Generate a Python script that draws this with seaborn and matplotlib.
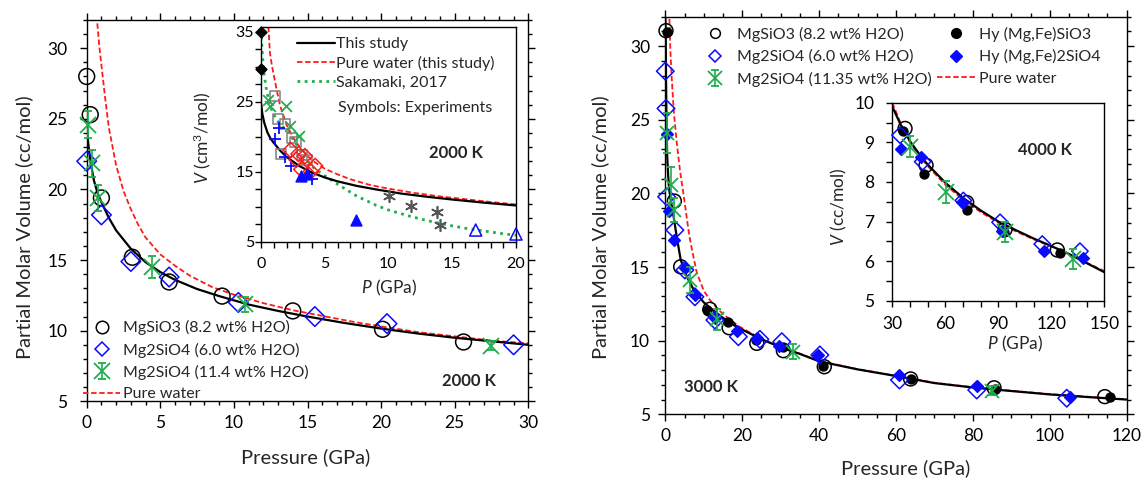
import matplotlib
matplotlib.use("Agg")
import matplotlib.pyplot as plt
import seaborn as sns
from matplotlib.lines import Line2D
from matplotlib.ticker import MultipleLocator

# ---------------- 2000 K (left panel) ----------------
# fitted curve "this study"
p2000_fit = [0.0, 0.1, 0.25, 0.5, 0.75, 1.0, 1.5, 2.0, 3.0, 4.0, 5.0, 6.0, 7.5, 9.0,
             11.0, 13.0, 15.0, 17.5, 20.0, 22.5, 25.0, 27.5, 30.0]
v2000_fit = [24.8, 23.3, 22.0, 20.6, 19.7, 19.1, 18.0, 17.1, 15.8, 14.85, 14.15, 13.6, 12.95, 12.45,
             11.85, 11.4, 11.0, 10.55, 10.15, 9.8, 9.5, 9.25, 9.0]
# pure water
p2000_h2o = [0.58, 0.7, 0.85, 1.0, 1.25, 1.5, 2.0, 2.5, 3.0, 3.5, 4.0, 5.0, 6.0, 7.0, 8.5,
             10.0, 12.0, 14.0, 16.0, 18.0, 20.0, 22.5, 25.0, 27.5, 30.0]
v2000_h2o = [35.7, 32.0, 30.2, 28.8, 26.5, 24.4, 21.7, 19.9, 18.6, 17.5, 16.6, 15.4, 14.6, 13.9, 13.1,
             12.55, 11.95, 11.45, 11.05, 10.65, 10.3, 9.9, 9.6, 9.3, 9.1]
# Sakamaki 2017 (inset)
p_saka = [0.0, 0.1, 0.2, 0.4, 0.6, 0.9, 1.25, 1.75, 2.25, 3.0, 3.6, 4.2, 5.0, 6.0, 7.5, 9.0,
          10.0, 11.5, 13.0, 14.5, 16.0, 17.5, 19.0, 20.0]
v_saka = [35.3, 32.0, 29.5, 27.0, 25.2, 23.5, 22.3, 21.3, 20.4, 18.2, 16.6, 15.4, 14.4, 13.2, 11.5, 10.2,
          9.5, 8.7, 8.0, 7.4, 6.9, 6.5, 6.1, 5.9]

# simulations at 2000 K
p2000_en = [0.0, 0.24, 1.0, 3.1, 5.6, 9.2, 14.0, 20.1, 25.6]
v2000_en = [28.0, 25.3, 19.4, 15.2, 13.45, 12.45, 11.4, 10.1, 9.2]
p2000_fo = [0.0, 1.0, 3.0, 5.6, 10.3, 15.5, 20.4, 29.0]
v2000_fo = [22.0, 18.2, 14.9, 13.8, 12.0, 11.0, 10.5, 9.0]
p2000_fo2 = [0.07, 0.38, 0.79, 4.41, 10.75, 27.47]
v2000_fo2 = [24.6, 21.85, 19.4, 14.53, 11.87, 8.94]
e2000_fo2 = [0.95, 0.95, 0.9, 0.77, 0.55, 0.3]

# experiments (inset)
p_exp_bk = [0.0, 0.0]
v_exp_bk = [35.0, 29.6]
p_exp_sq = [1.11, 1.33, 1.87, 2.43, 2.71, 1.59, 3.22, 3.58]
v_exp_sq = [25.8, 22.5, 21.8, 19.8, 19.2, 17.5, 17.4, 16.6]
p_exp_pl = [1.06, 1.39, 1.87, 2.38, 3.97]
v_exp_pl = [19.7, 21.2, 17.1, 15.8, 13.9]
p_exp_gx = [0.55, 0.7, 1.96, 2.29, 2.96]
v_exp_gx = [25.2, 24.4, 24.3, 21.5, 20.1]
p_exp_rd = [2.32, 2.94, 3.44, 3.16, 4.25, 3.91, 2.78]
v_exp_rd = [18.07, 17.5, 17.2, 15.3, 15.8, 15.0, 16.7]
p_exp_bt = [3.13, 3.58, 7.47]
v_exp_bt = [14.3, 14.6, 8.07]
p_exp_ot = [16.84, 20.0]
v_exp_ot = [6.64, 6.07]
p_exp_as = [10.0, 11.8, 13.8, 14.04]
v_exp_as = [11.5, 10.07, 9.17, 7.36]

# ---------------- 3000 K (right panel) ----------------
p3000_fit = [0.0, 0.1, 0.2, 0.35, 0.5, 0.75, 1.0, 1.5, 2.0, 3.0, 4.0, 5.5, 7.5, 10.0, 12.5,
             15.0, 17.5, 20.0, 25.0, 30.0, 35.0, 40.0, 50.0, 60.0, 70.0, 80.0, 90.0, 100.0, 110.0, 120.0]
v3000_fit = [32.3, 31.0, 27.5, 24.2, 22.5, 21.2, 20.3, 19.4, 18.7, 17.0, 15.5, 14.4, 13.4, 12.6, 12.05,
             11.55, 11.1, 10.75, 10.1, 9.55, 9.1, 8.6, 8.05, 7.6, 7.12, 6.82, 6.58, 6.35, 6.17, 6.0]
p3000_h2o = [1.0, 1.3, 1.7, 2.2, 3.0, 3.8, 4.7, 5.5, 6.2, 7.0, 8.2, 10.0, 11.6, 14.0, 16.0, 19.0,
             22.0, 26.0, 30.0, 35.0, 40.0, 50.0, 60.0, 70.0, 80.0, 90.0, 100.0, 110.0, 120.0]
v3000_h2o = [32.4, 29.8, 27.7, 25.6, 23.4, 21.6, 20.0, 18.5, 17.2, 16.1, 14.6, 13.4, 12.76, 12.05, 11.6, 11.0,
             10.55, 10.0, 9.6, 9.12, 8.62, 8.07, 7.62, 7.14, 6.84, 6.6, 6.37, 6.19, 6.02]

p3000_en = [0.18, 2.35, 4.0, 11.6, 16.6, 23.8, 30.7, 41.35, 63.8, 85.5, 114.3]
v3000_en = [31.05, 19.48, 15.02, 12.13, 10.88, 9.82, 9.32, 8.23, 7.4, 6.8, 6.2]
p3000_fo = [0.0, 0.18, 0.35, 2.5, 5.1, 7.7, 12.9, 19.0, 24.6, 30.3, 40.2, 60.9, 81.0, 104.4]
v3000_fo = [28.3, 25.77, 19.77, 17.51, 14.8, 12.98, 11.4, 10.27, 10.09, 9.93, 9.03, 7.33, 6.65, 6.09]
p3000_fo2 = [0.52, 1.48, 2.35, 6.4, 13.5, 33.1, 84.9]
v3000_fo2 = [24.12, 20.57, 18.87, 14.12, 11.45, 9.25, 6.6]
e3000_fo2 = [1.35, 1.2, 0.8, 0.9, 0.7, 0.5, 0.3]
p3000_hyen = [0.5, 10.8, 16.4, 23.6, 30.7, 40.9, 63.8, 85.8, 115.7]
v3000_hyen = [30.94, 12.08, 11.29, 10.04, 9.55, 8.28, 7.4, 6.72, 6.15]
p3000_hyfo = [0.35, 1.04, 2.26, 5.12, 7.7, 12.9, 18.6, 23.8, 29.6, 39.8, 60.9, 81.1, 105.3]
v3000_hyfo = [24.03, 18.8, 16.83, 14.91, 13.1, 11.52, 10.68, 10.16, 9.64, 9.03, 7.67, 6.92, 6.15]

# ---------------- 4000 K (right inset) ----------------
p4000_fit = [30, 35, 40, 45, 50, 60, 70, 80, 90, 100, 110, 120, 130, 140, 150]
v4000_fit = [9.9, 9.42, 9.03, 8.72, 8.44, 7.98, 7.6, 7.28, 7.0, 6.78, 6.57, 6.38, 6.18, 5.95, 5.72]
v4000_h2o = [10.0, 9.45, 9.0, 8.68, 8.4, 7.93, 7.55, 7.24, 6.97, 6.75, 6.55, 6.37, 6.18, 5.96, 5.75]
p4000_en = [37.2, 49.1, 72.1, 93.8, 123.4]
v4000_en = [9.35, 8.42, 7.48, 6.8, 6.28]
p4000_hyen = [36.2, 47.9, 72.5, 93.4, 124.9]
v4000_hyen = [9.29, 8.2, 7.29, 6.74, 6.2]
p4000_fo = [34.4, 47.2, 70.2, 91.0, 114.9, 136.2]
v4000_fo = [9.18, 8.51, 7.53, 6.98, 6.43, 6.25]
p4000_hyfo = [34.9, 46.2, 69.3, 91.9, 116.0, 138.1]
v4000_hyfo = [8.82, 8.64, 7.5, 6.76, 6.26, 6.07]
p4000_fo2 = [40.0, 60.4, 93.8, 132.1]
v4000_fo2 = [8.89, 7.75, 6.73, 6.05]
e4000_fo2 = [0.27, 0.28, 0.25, 0.26]

BLUE = "#0a0aff"
GREEN = "#1fae4b"
RED = "#ff1a1a"
GRAY = "#7f7f7f"
DASH = (0, (3, 1.5))

sns.set_style("ticks")
plt.rcParams["font.family"] = ["Lato", "DejaVu Sans"]
plt.rcParams["mathtext.fontset"] = "custom"
plt.rcParams["mathtext.it"] = "Lato:italic"
plt.rcParams["mathtext.rm"] = "Lato"

W, H = 1142, 479
fig = plt.figure(figsize=(W / 100, H / 100), dpi=100)


def rect(x0, y0, x1, y1):
    return [x0 / W, (H - y1) / H, (x1 - x0) / W, (y1 - y0) / H]


def main_ticks(ax, xmaj, xmin, ymaj, ymin, ypad):
    ax.xaxis.set_major_locator(MultipleLocator(xmaj))
    ax.xaxis.set_minor_locator(MultipleLocator(xmin))
    ax.yaxis.set_major_locator(MultipleLocator(ymaj))
    ax.yaxis.set_minor_locator(MultipleLocator(ymin))
    ax.tick_params(which="both", direction="out", top=True, right=True, width=1.0, colors="k")
    ax.tick_params(which="major", length=5, labelsize=12.5)
    ax.tick_params(which="minor", length=3)
    ax.tick_params(axis="x", which="major", pad=5)
    ax.tick_params(axis="y", which="major", pad=ypad)
    for s in ax.spines.values():
        s.set_linewidth(1.0)
        s.set_color("k")


def inset_ticks(ax, xloc, xmin, yloc, ymin, xpad, ypad, size):
    ax.xaxis.set_major_locator(xloc)
    ax.xaxis.set_minor_locator(MultipleLocator(xmin))
    ax.yaxis.set_major_locator(yloc)
    ax.yaxis.set_minor_locator(MultipleLocator(ymin))
    ax.tick_params(which="both", direction="out", width=1.0, colors="k")
    ax.tick_params(which="major", length=4, labelsize=size)
    ax.tick_params(which="minor", length=4)
    ax.tick_params(axis="x", which="major", pad=xpad)
    ax.tick_params(axis="y", which="major", pad=ypad)
    for s in ax.spines.values():
        s.set_visible(True)
        s.set_linewidth(1.0)
        s.set_color("k")
    ax.set_facecolor("white")


def open_pts(ax, x, y, marker, s, color, lw=1.1):
    sns.scatterplot(x=x, y=y, ax=ax, marker=marker, s=s, facecolors="none",
                    edgecolor=color, linewidth=lw, zorder=4, clip_on=False)


def full_pts(ax, x, y, marker, s, color, lw=1.1):
    sns.scatterplot(x=x, y=y, ax=ax, marker=marker, s=s, color=color,
                    edgecolor=color, linewidth=lw, zorder=4, clip_on=False)


def err_pts(ax, x, y, e, ms, cap):
    return ax.errorbar(x, y, yerr=e, fmt="x", color=GREEN, ms=ms, mew=1.3,
                       elinewidth=1.2, capsize=cap, capthick=1.2, zorder=5, clip_on=False)


# ================= left main =================
ax1 = fig.add_axes(rect(86.7, 20, 528.3, 401.3))
sns.lineplot(x=p2000_h2o, y=v2000_h2o, ax=ax1, color=RED, lw=1.3, linestyle=DASH,
             sort=False, estimator=None, zorder=2)
sns.lineplot(x=p2000_fit, y=v2000_fit, ax=ax1, color="k", lw=1.6, sort=False, estimator=None, zorder=3)
open_pts(ax1, p2000_en, v2000_en, "o", 130, "k")
open_pts(ax1, p2000_fo, v2000_fo, "D", 100, BLUE)
eb1 = err_pts(ax1, p2000_fo2, v2000_fo2, e2000_fo2, 11, 3)
ax1.set_xlim(0, 30)
ax1.set_ylim(5, 32)
main_ticks(ax1, 5, 1, 5, 1, 9)
ax1.set_xlabel("Pressure (GPa)", fontsize=14.5)
ax1.set_ylabel("Partial Molar Volume (cc/mol)", fontsize=14.5)
ax1.xaxis.set_label_coords(0.496, -0.1225)
ax1.yaxis.set_label_coords(-0.122, 0.456)
ax1.text(0.865, 0.052, "2000 K", transform=ax1.transAxes, fontsize=12, fontweight="bold",
         ha="center", va="center")
h1 = [Line2D([], [], ls="none", marker="o", ms=9, mfc="none", mec="k", mew=1.1),
      Line2D([], [], ls="none", marker="D", ms=7, mfc="none", mec=BLUE, mew=1.1),
      eb1,
      Line2D([], [], color=RED, lw=1.3, ls=DASH)]
l1 = ["MgSiO3 (8.2 wt% H2O)", "Mg2SiO4 (6.0 wt% H2O)", "Mg2SiO4 (11.4 wt% H2O)", "Pure water"]
ax1.legend(h1, l1, loc="upper left", bbox_to_anchor=(-0.008, 0.213), frameon=False, fontsize=11.5,
           handlelength=2.3, handletextpad=0.2, labelspacing=0.46, borderpad=0, borderaxespad=0)

# ================= left inset =================
ax2 = fig.add_axes(rect(261, 26.7, 516, 241.5), zorder=5)
sns.lineplot(x=p_saka, y=v_saka, ax=ax2, color=GREEN, lw=2.0, linestyle=(0, (1, 1.6)),
             sort=False, estimator=None, zorder=2)
sns.lineplot(x=p2000_h2o, y=v2000_h2o, ax=ax2, color=RED, lw=1.3, linestyle=DASH,
             sort=False, estimator=None, zorder=2)
sns.lineplot(x=p2000_fit, y=v2000_fit, ax=ax2, color="k", lw=1.6, sort=False, estimator=None, zorder=3)
full_pts(ax2, p_exp_bk, v_exp_bk, "D", 30, "k")
open_pts(ax2, p_exp_sq, v_exp_sq, "s", 55, GRAY)
full_pts(ax2, p_exp_pl, v_exp_pl, "+", 80, BLUE, lw=1.3)
full_pts(ax2, p_exp_gx, v_exp_gx, "x", 60, GREEN, lw=1.3)
open_pts(ax2, p_exp_rd, v_exp_rd, "D", 60, RED)
full_pts(ax2, p_exp_bt, v_exp_bt, "^", 60, BLUE)
open_pts(ax2, p_exp_ot, v_exp_ot, "^", 75, BLUE)
full_pts(ax2, p_exp_as, v_exp_as, (6, 2, 0), 70, "#555555", lw=1.2)
ax2.set_xlim(0, 20)
ax2.set_ylim(5, 35.7)
inset_ticks(ax2, MultipleLocator(5), 1, MultipleLocator(10, offset=5), 2.5, 7.5, 1, 11.5)
ax2.set_xlabel("$\\it{P}$ (GPa)", fontsize=12.5)
ax2.set_ylabel("$\\it{V}$ (cm$^3$/mol)", fontsize=12.5)
ax2.xaxis.set_label_coords(0.504, -0.168)
ax2.yaxis.set_label_coords(-0.187, 0.482)
ax2.text(0.765, 0.41, "2000 K", transform=ax2.transAxes, fontsize=12, fontweight="bold",
         ha="center", va="center")
h2 = [Line2D([], [], color="k", lw=1.6),
      Line2D([], [], color=RED, lw=1.3, ls=DASH),
      Line2D([], [], color=GREEN, lw=2.0, ls=(0, (1, 1.6)))]
l2 = ["This study", "Pure water (this study)", "Sakamaki, 2017"]
ax2.legend(h2, l2, loc="upper left", bbox_to_anchor=(0.14, 0.952), frameon=False, fontsize=11.5,
           handlelength=2.4, handletextpad=0.05, labelspacing=0.3, borderpad=0, borderaxespad=0)
ax2.text(0.30, (241.5 - 108.3) / 214.8, "Symbols: Experiments", transform=ax2.transAxes,
         fontsize=11.5, ha="left", va="center")

# ================= right main =================
ax3 = fig.add_axes(rect(665.3, 16.7, 1126.7, 414.3))
sns.lineplot(x=p3000_h2o, y=v3000_h2o, ax=ax3, color=RED, lw=1.3, linestyle=DASH,
             sort=False, estimator=None, zorder=2)
sns.lineplot(x=p3000_fit, y=v3000_fit, ax=ax3, color="k", lw=1.6, sort=False, estimator=None, zorder=3)
open_pts(ax3, p3000_en, v3000_en, "o", 100, "k")
full_pts(ax3, p3000_hyen, v3000_hyen, "o", 40, "k")
open_pts(ax3, p3000_fo, v3000_fo, "D", 80, BLUE)
full_pts(ax3, p3000_hyfo, v3000_hyfo, "D", 35, BLUE)
eb3 = err_pts(ax3, p3000_fo2, v3000_fo2, e3000_fo2, 10, 3)
ax3.set_xlim(0, 120)
ax3.set_ylim(5, 32)
main_ticks(ax3, 20, 5, 5, 1, 6)
ax3.set_xlabel("Pressure (GPa)", fontsize=14.5)
ax3.set_ylabel("Partial Molar Volume (cc/mol)", fontsize=14.5)
ax3.xaxis.set_label_coords(0.52, -0.114)
ax3.yaxis.set_label_coords(-0.122, 0.47)
ax3.text(0.10, 0.068, "3000 K", transform=ax3.transAxes, fontsize=12, fontweight="bold",
         ha="center", va="center")
h3a = [Line2D([], [], ls="none", marker="o", ms=7, mfc="none", mec="k", mew=1.1),
       Line2D([], [], ls="none", marker="D", ms=6, mfc="none", mec=BLUE, mew=1.1),
       eb3]
l3a = ["MgSiO3 (8.2 wt% H2O)", "Mg2SiO4 (6.0 wt% H2O)", "Mg2SiO4 (11.35 wt% H2O)"]
h3b = [Line2D([], [], ls="none", marker="o", ms=7, mfc="k", mec="k"),
       Line2D([], [], ls="none", marker="D", ms=6, mfc=BLUE, mec=BLUE),
       Line2D([], [], color=RED, lw=1.3, ls=DASH)]
l3b = ["Hy (Mg,Fe)SiO3", "Hy (Mg,Fe)2SiO4", "Pure water"]
leg3a = ax3.legend(h3a, l3a, loc="upper left", bbox_to_anchor=((695.4 - 665.3) / 461.4, 0.975),
                   frameon=False, fontsize=11.5, handlelength=2.4, handletextpad=0.2,
                   labelspacing=0.47, borderpad=0, borderaxespad=0)
ax3.add_artist(leg3a)
ax3.legend(h3b, l3b, loc="upper left", bbox_to_anchor=((937 - 665.3) / 461.4, 0.975),
           frameon=False, fontsize=11.5, handlelength=2.4, handletextpad=0.2,
           labelspacing=0.47, borderpad=0, borderaxespad=0)

# ================= right inset =================
ax4 = fig.add_axes(rect(892.3, 102.7, 1104.3, 300.7), zorder=5)
sns.lineplot(x=p4000_fit, y=v4000_h2o, ax=ax4, color=RED, lw=1.3, linestyle=DASH,
             sort=False, estimator=None, zorder=2)
sns.lineplot(x=p4000_fit, y=v4000_fit, ax=ax4, color="k", lw=1.6, sort=False, estimator=None, zorder=3)
open_pts(ax4, p4000_en, v4000_en, "o", 100, "k")
full_pts(ax4, p4000_hyen, v4000_hyen, "o", 40, "k")
open_pts(ax4, p4000_fo, v4000_fo, "D", 70, BLUE)
full_pts(ax4, p4000_hyfo, v4000_hyfo, "D", 35, BLUE)
err_pts(ax4, p4000_fo2, v4000_fo2, e4000_fo2, 11, 3)
ax4.set_xlim(30, 150)
ax4.set_ylim(5, 10)
inset_ticks(ax4, MultipleLocator(30), 10, MultipleLocator(1), 0.5, 7, 9, 12.5)
ax4.set_xlabel("$\\it{P}$ (GPa)", fontsize=12.5)
ax4.set_ylabel("$\\it{V}$ (cc/mol)", fontsize=12.5)
ax4.xaxis.set_label_coords(0.58, -0.17)
ax4.yaxis.set_label_coords(-0.202, 0.475)
ax4.text(0.720, 0.762, "4000 K", transform=ax4.transAxes, fontsize=12, fontweight="bold",
         ha="center", va="center")

fig.savefig("out.png", dpi=100)
